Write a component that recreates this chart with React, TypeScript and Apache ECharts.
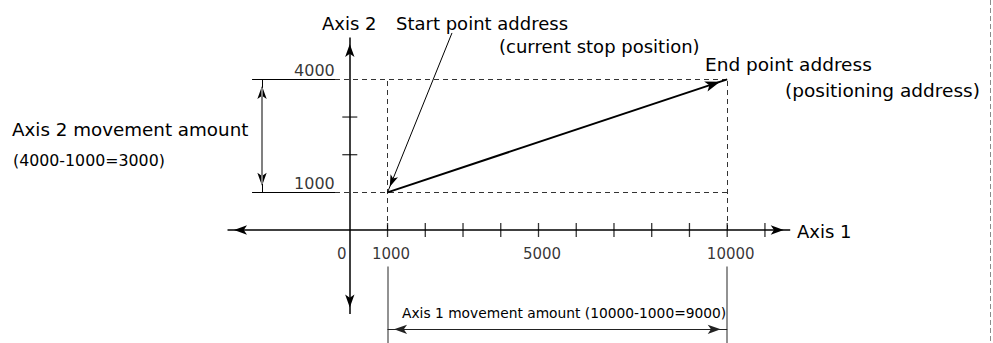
import React, { useEffect, useRef } from "react";
import * as echarts from "echarts";

// ---- data (values in axis units) ----
const axis1TickValues = [1000, 2000, 3000, 4000, 5000, 6000, 7000, 8000, 9000, 10000, 11000];
const axis1TickLabels = [0, 1000, 5000, 10000];
const axis2TickValues = [2000, 3000];
const axis2TickLabels = [1000, 4000];
const axis1Extent = [-3240, 11670];
const axis2Extent = [-2230, 5110];
const startPoint = [1000, 1000];
const endPoint = [10000, 4000];

const texts = {
  axis1: "Axis 1",
  axis2: "Axis 2",
  start: "Start point address",
  startSub: "(current stop position)",
  end: "End point address",
  endSub: "(positioning address)",
  move2: "Axis 2 movement amount",
  move2Calc: "(4000-1000=3000)",
  move1: "Axis 1 movement amount (10000-1000=9000)",
};

// ---- layout ----
const ORIGIN_X = 349.8;
const ORIGIN_Y = 230.5;
const K = 37.74 / 1000; // px per unit
const X_MIN = -9000, X_MAX = 17000, Y_MIN = -3000, Y_MAX = 6000;
const FONT = '"DejaVu Sans", sans-serif';

// annotation positions in axis units
const LEADER_X0 = -2590, LEADER_X1 = -392;
const DIM2_X = -2326;
const EXT_Y0 = -967, EXT_Y1 = -3000;
const DIM1_Y = -2636;
const START_LEADER_FROM = [2708, 5233];

type Pt = number[];
const mk = (
  id: string,
  segs: Pt[][],
  lineStyle: any,
  symbol: any = "none",
  symbolSize: any = 0,
  symbolOffset: any = 0,
  z = 2
) => ({
  type: "line",
  id,
  data: [],
  silent: true,
  z,
  markLine: {
    silent: true,
    animation: false,
    symbol,
    symbolSize,
    symbolOffset,
    label: { show: false },
    lineStyle,
    data: segs.map(([a, b]) => [{ coord: a }, { coord: b }]),
  },
});

function buildOption(): any {
  const txt = (text: string, x: number, y: number, size: number) => ({
    type: "text",
    x,
    y,
    silent: true,
    style: {
      text,
      fill: "#000",
      fontSize: size,
      fontFamily: FONT,
      align: "left",
      textAlign: "left",
      verticalAlign: "middle",
      textVerticalAlign: "middle",
    },
  });
  return {
    animation: false,
    backgroundColor: "#fff",
    grid: {
      left: ORIGIN_X + X_MIN * K,
      top: ORIGIN_Y - Y_MAX * K,
      width: (X_MAX - X_MIN) * K,
      height: (Y_MAX - Y_MIN) * K,
      containLabel: false,
    },
    xAxis: { type: "value", min: X_MIN, max: X_MAX, show: false },
    yAxis: { type: "value", min: Y_MIN, max: Y_MAX, show: false },
    series: [
      // axes
      mk(
        "axes",
        [
          [[axis1Extent[0], 0], [axis1Extent[1], 0]],
          [[0, axis2Extent[0]], [0, axis2Extent[1]]],
        ],
        { color: "#000", width: 1.5, type: "solid" },
        ["arrow", "arrow"],
        [7, 13],
        [[0, 6.5], [0, 6.5]]
      ),
      // dashed guides
      mk(
        "guides",
        [
          [[LEADER_X1, endPoint[1]], [endPoint[0], endPoint[1]]],
          [[LEADER_X1, startPoint[1]], [endPoint[0], startPoint[1]]],
          [[startPoint[0], 0], [startPoint[0], endPoint[1]]],
          [[endPoint[0], 0], [endPoint[0], endPoint[1]]],
        ],
        { color: "#333", width: 1, type: [5, 4] }
      ),
      // axis 2 extension lines
      mk(
        "ext2",
        [
          [[LEADER_X0, endPoint[1]], [LEADER_X1, endPoint[1]]],
          [[LEADER_X0, startPoint[1]], [LEADER_X1, startPoint[1]]],
        ],
        { color: "#000", width: 1, type: "solid" }
      ),
      // axis 2 dimension arrow heads (drawn below the gray shaft)
      mk(
        "dim2heads",
        [[[DIM2_X, startPoint[1]], [DIM2_X, endPoint[1]]]],
        { color: "#000", width: 1, type: "solid" },
        ["arrow", "arrow"],
        [7, 13],
        [[0, 6.5], [0, 6.5]],
        2
      ),
      // axis 2 dimension shaft
      mk(
        "dim2shaft",
        [[[DIM2_X, startPoint[1] + 220], [DIM2_X, endPoint[1] - 220]]],
        { color: "#808080", width: 2, type: "solid" },
        "none",
        0,
        0,
        3
      ),
      // axis 1 extension lines
      mk(
        "ext1",
        [
          [[startPoint[0], EXT_Y0], [startPoint[0], EXT_Y1]],
          [[endPoint[0], EXT_Y0], [endPoint[0], EXT_Y1]],
        ],
        { color: "#6e6e6e", width: 1.5, type: "solid" }
      ),
      // axis 1 dimension arrow
      mk(
        "dim1",
        [[[startPoint[0], DIM1_Y], [endPoint[0], DIM1_Y]]],
        { color: "#222", width: 1.2, type: "solid" },
        ["arrow", "arrow"],
        [7, 13],
        [[0, 6.5], [0, 6.5]]
      ),
      // main movement arrow
      mk(
        "move",
        [[startPoint, endPoint]],
        { color: "#000", width: 2, type: "solid" },
        ["none", "arrow"],
        [8, 15],
        [[0, 0], [0, 7.5]],
        4
      ),
      // start point leader
      mk(
        "startLeader",
        [[START_LEADER_FROM, startPoint]],
        { color: "#000", width: 1, type: "solid" },
        ["none", "arrow"],
        [6, 12],
        [[0, 0], [0, 6]],
        4
      ),
      // ticks
      {
        type: "scatter",
        id: "ticks1",
        silent: true,
        z: 5,
        symbol: "rect",
        symbolSize: [1.3, 14],
        itemStyle: { color: "#000" },
        data: axis1TickValues.map((v) => [v, 0]),
      },
      {
        type: "scatter",
        id: "ticks2",
        silent: true,
        z: 5,
        symbol: "rect",
        symbolSize: [15, 1.3],
        itemStyle: { color: "#000" },
        data: axis2TickValues.map((v) => [0, v]),
      },
      // tick labels
      {
        type: "scatter",
        id: "labels1",
        silent: true,
        symbolSize: 0,
        itemStyle: { color: "transparent" },
        data: axis1TickLabels.map((v) => ({
          value: [v, 0],
          label: { offset: v === 0 ? [-8, 24] : [3.5, 24] },
        })),
        label: {
          show: true,
          position: "inside",
          formatter: (p: any) => String(p.value[0]),
          color: "#000",
          fontSize: 15,
          fontFamily: FONT,
        },
      },
      {
        type: "scatter",
        id: "labels2",
        silent: true,
        symbolSize: 0,
        itemStyle: { color: "transparent" },
        data: axis2TickLabels.map((v) => [0, v]),
        label: {
          show: true,
          position: "inside",
          align: "right",
          offset: [-15, -9],
          formatter: (p: any) => String(p.value[1]),
          color: "#000",
          fontSize: 16,
          fontFamily: FONT,
        },
      },
    ],
    graphic: [
      txt(texts.axis2, 322, 23, 18),
      txt(texts.start, 396, 23, 18),
      txt(texts.startSub, 499, 46, 18),
      txt(texts.end, 705, 64, 18.5),
      txt(texts.endSub, 785, 90, 18.5),
      txt(texts.move2, 12, 129, 18.3),
      txt(texts.move2Calc, 13, 160, 15.8),
      txt(texts.axis1, 797, 231, 18),
      txt(texts.move1, 402, 313, 13.8),
      {
        type: "line",
        silent: true,
        shape: { x1: 990.5, y1: 0, x2: 990.5, y2: 343 },
        style: { stroke: "#8a8a8a", lineWidth: 1, lineDash: [5, 3] },
      },
    ],
  };
}

export default function App() {
  const ref = useRef<HTMLDivElement>(null);
  useEffect(() => {
    if (!ref.current) return;
    const chart = echarts.init(ref.current, null, { renderer: "svg" });
    chart.setOption(buildOption());
    return () => chart.dispose();
  }, []);
  return (
    <div
      ref={ref}
      style={{ position: "fixed", left: 0, top: 0, width: 993, height: 343, background: "#fff" }}
    />
  );
}
